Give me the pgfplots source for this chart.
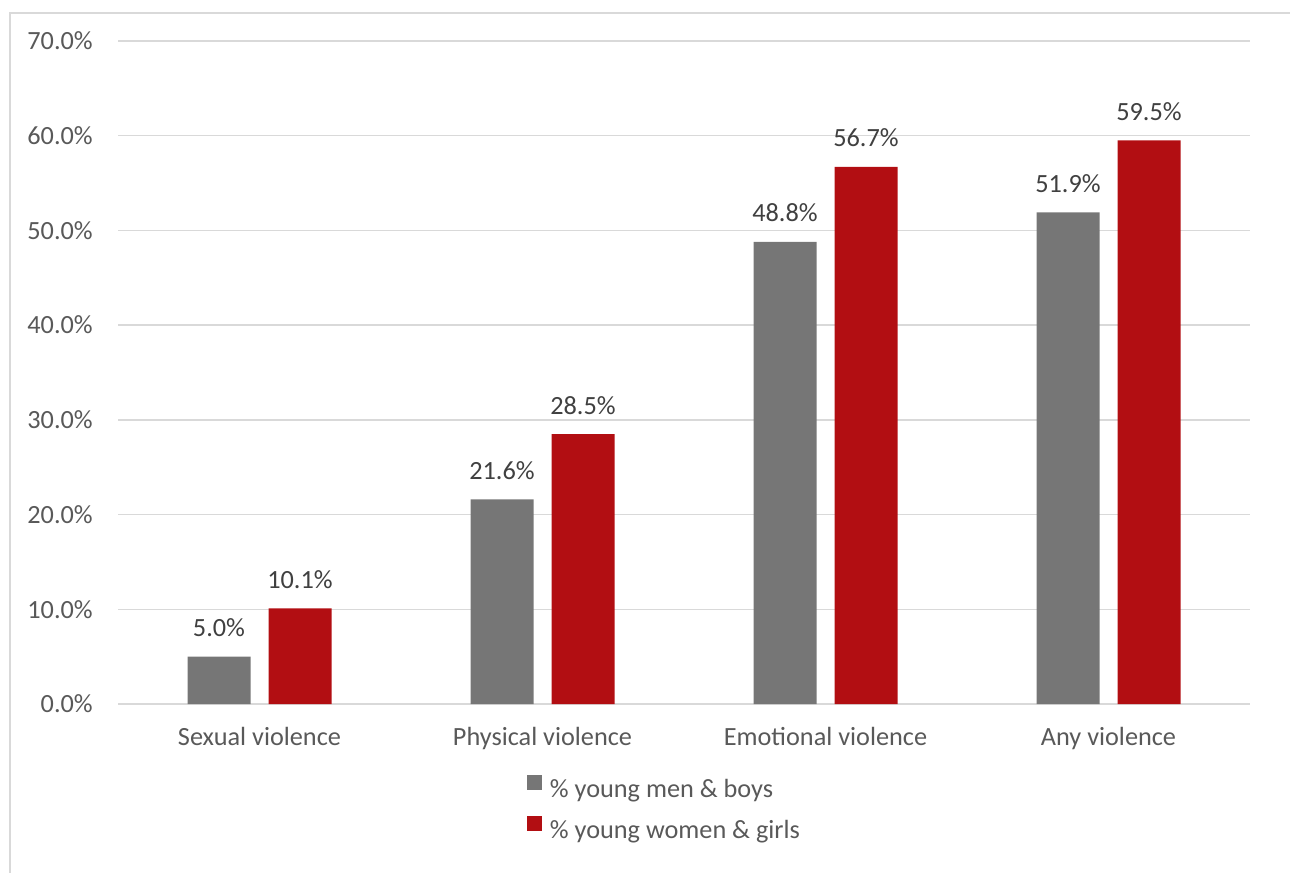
\documentclass[border=0pt]{standalone}
\usepackage{pgfplots}
\pgfplotsset{compat=1.18}
\usepackage{fontspec}
\setmainfont{Carlito}

\definecolor{menbar}{HTML}{767676}
\definecolor{womenbar}{HTML}{B20E12}
\definecolor{gridgray}{HTML}{D9D9D9}
\definecolor{labelgray}{HTML}{595959}
\definecolor{valuegray}{HTML}{404040}

\newcommand{\chartfont}{\fontsize{19.7}{23.6}\selectfont}

\begin{document}
\begin{tikzpicture}
% canvas and outer chart frame
\path[use as bounding box] (0pt,0pt) rectangle (967.5pt,654pt);
\draw[gridgray, line width=1.2pt] (7.5pt,-5pt) -- (7.5pt,644.25pt) -- (975pt,644.25pt);

\begin{axis}[
  at={(88.5pt,126pt)}, anchor=south west,
  scale only axis,
  width=849pt, height=497.25pt,
  ybar=13.5pt, bar width=47.25pt,
  xmin=-0.5, xmax=3.5,
  ymin=0, ymax=70,
  xtick=data,
  xticklabels={Sexual violence, Physical violence, Emotional violence, Any violence},
  ytick={0,10,20,30,40,50,60,70},
  axis x line*=bottom,
  axis y line*=left,
  x axis line style={gridgray, line width=1pt},
  y axis line style={draw=none},
  major tick length=0pt,
  ymajorgrids,
  major grid style={gridgray, line width=1pt},
  /pgf/number format/assume math mode=true,
  yticklabel={\pgfmathprintnumber[fixed,fixed zerofill,precision=1]{\tick}\%},
  yticklabel style={font=\chartfont, text=labelgray, anchor=east, inner sep=0pt, xshift=-18.75pt},
  xticklabel style={font=\chartfont, text=labelgray, anchor=base, inner sep=0pt, yshift=-30.75pt},
  nodes near coords={\pgfmathprintnumber[fixed,fixed zerofill,precision=1]{\pgfplotspointmeta}\%},
  every node near coord/.append style={font=\chartfont, text=valuegray, anchor=base, inner sep=0pt, yshift=15pt},
  legend image code/.code={\fill[#1] (0pt,0.75pt) rectangle (11.25pt,12pt); \path (17.25pt,0pt);},
  legend style={
    at={(axis description cs:0.3613,-0.1072)}, anchor=north west,
    draw=none, fill=none, inner sep=0pt, outer sep=0pt,
    row sep=9.75pt, column sep=0pt,
    legend cell align=left,
    nodes={font=\chartfont, text=labelgray, inner sep=0pt, text height=14pt, text depth=4pt},
  },
  legend columns=1,
]
\addplot[fill=menbar, draw=none] coordinates {(0,5.0) (1,21.6) (2,48.8) (3,51.9)};
\addlegendentry{\% young men \& boys}
\addplot[fill=womenbar, draw=none] coordinates {(0,10.1) (1,28.5) (2,56.7) (3,59.5)};
\addlegendentry{\% young women \& girls}
\end{axis}
\end{tikzpicture}
\end{document}
